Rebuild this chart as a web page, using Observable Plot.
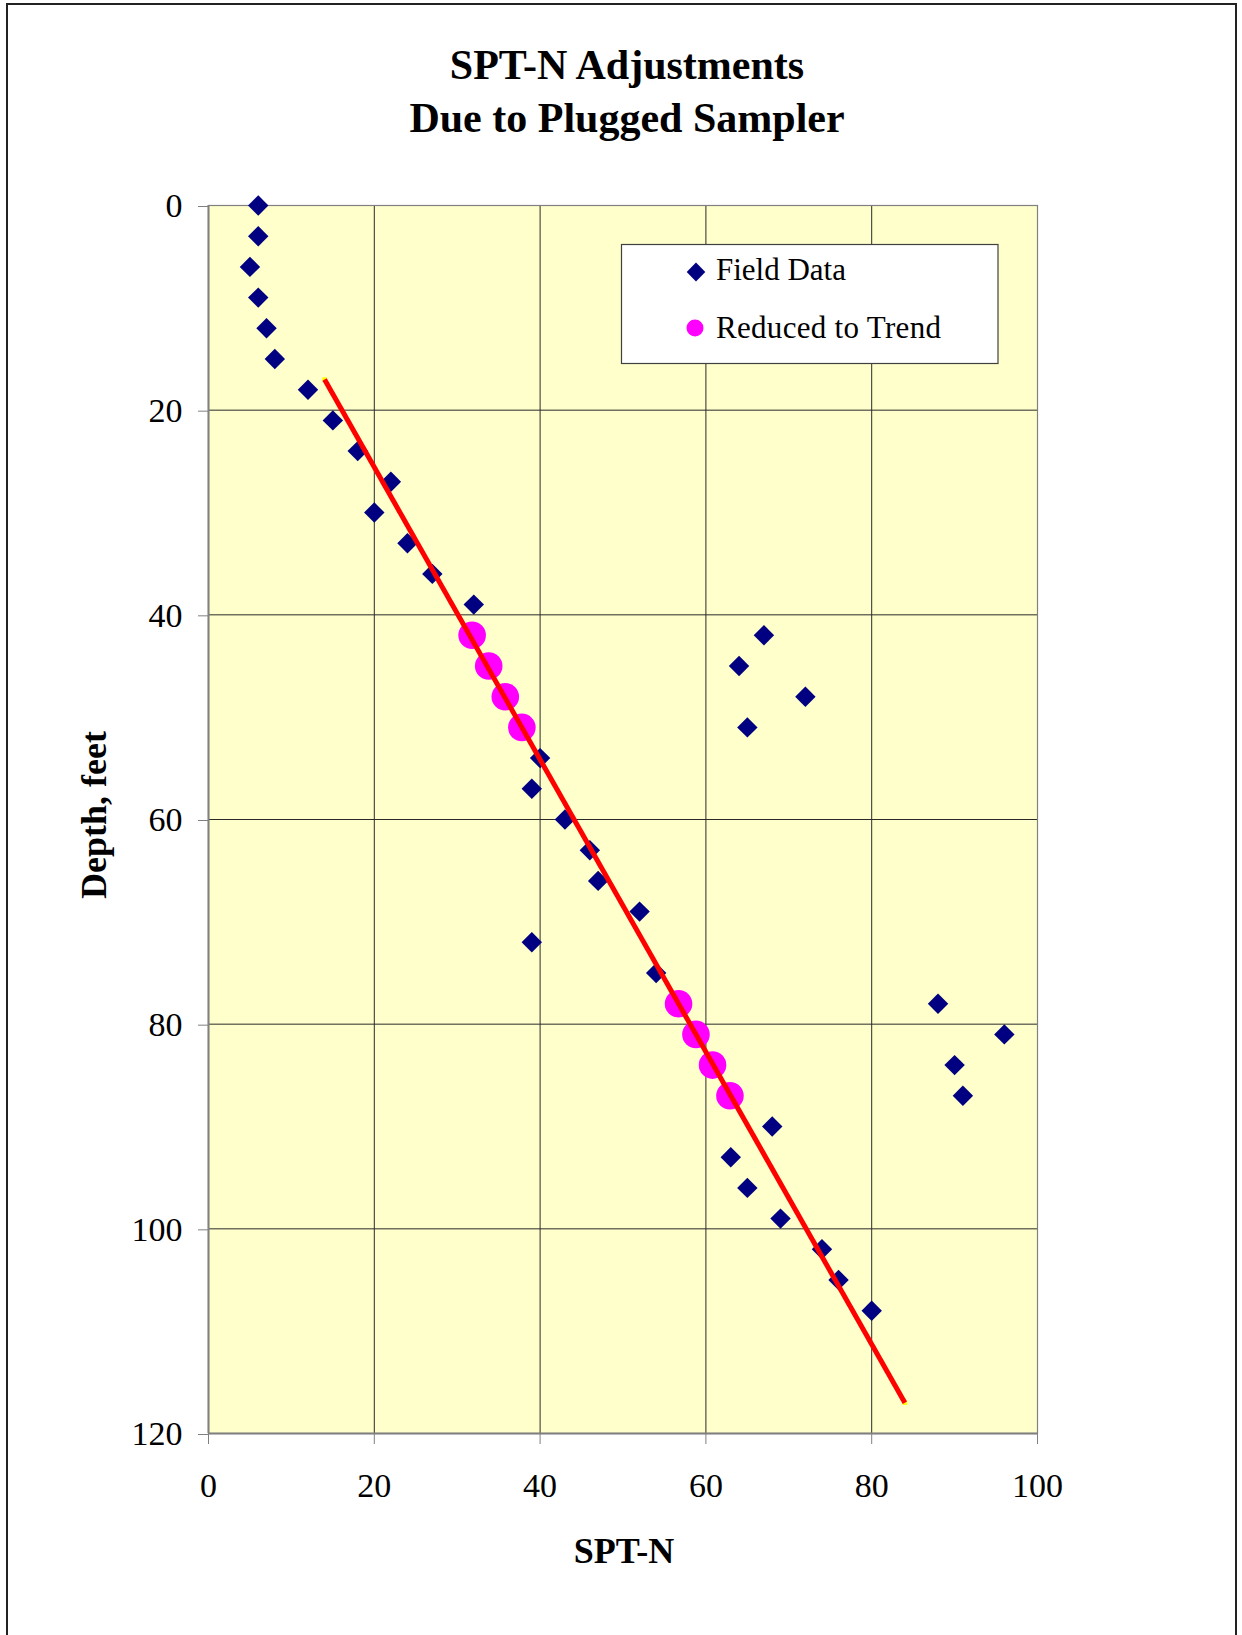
<!DOCTYPE html>
<html>
<head>
<meta charset="utf-8">
<script src="https://cdn.jsdelivr.net/npm/d3@7"></script>
<script src="https://cdn.jsdelivr.net/npm/@observablehq/plot@0.6"></script>
<style>
  html, body { margin: 0; padding: 0; background: #fff; }
  #wrap { position: relative; width: 1242px; height: 1635px; overflow: hidden; background: #fff; }
  #border { position: absolute; left: 6px; top: 3px; width: 1231px; height: 1700px;
            border: 2px solid #222; box-sizing: border-box; }
  #chart { position: absolute; left: 0; top: 0; }
  #overlay { position: absolute; left: 0; top: 0; }
  text { font-family: "Liberation Serif", "Times New Roman", serif; }
</style>
</head>
<body>
<div id="wrap">
  <div id="border"></div>
  <div id="chart"></div>
  <svg id="overlay" width="1242" height="1635"></svg>
</div>
<script>
// ---- Data ----
const fieldDepth = [0, 3, 6, 9, 12, 15, 18, 21, 24, 27, 30, 33, 36, 39, 42, 45, 48, 51, 54, 57, 60, 63, 66, 69, 72, 75, 78, 81, 84, 87, 90, 93, 96, 99, 102, 105, 108];
const fieldN     = [6, 6, 5, 6, 7, 8, 12, 15, 18, 22, 20, 24, 27, 32, 67, 64, 72, 65, 40, 39, 43, 46, 47, 52, 39, 54, 88, 96, 90, 91, 68, 63, 65, 69, 74, 76, 80];

const reducedDepth = [42, 45, 48, 51, 78, 81, 84, 87];
const reducedN     = [31.8, 33.8, 35.8, 37.8, 56.7, 58.8, 60.8, 62.9];

const trendDepth = [17, 117];
const trendN     = [14, 84];

const xTicks = [0, 20, 40, 60, 80, 100];
const yTicks = [0, 20, 40, 60, 80, 100, 120];
const xGrid = [20, 40, 60, 80];
const yGrid = [20, 40, 60, 80, 100];

const titleLines = ["SPT-N Adjustments", "Due to Plugged Sampler"];
const xTitle = "SPT-N";
const yTitle = "Depth, feet";
const legendLabels = ["Field Data", "Reduced to Trend"];

// ---- Build tables ----
const field = fieldDepth.map((d, i) => ({depth: d, n: fieldN[i]}));
const reduced = reducedDepth.map((d, i) => ({depth: d, n: reducedN[i]}));
const trend = trendDepth.map((d, i) => ({depth: d, n: trendN[i]}));

const W = 1242, H = 1635;
const chart = Plot.plot({
  width: W,
  height: H,
  marginLeft: 208,
  marginRight: 205,
  marginTop: 205,
  marginBottom: 202,
  style: {background: "transparent", fontFamily: "Liberation Serif, Times New Roman, serif", fontSize: "34px", color: "#000"},
  x: {domain: [0, 100], label: null},
  y: {domain: [0, 120], reverse: true, label: null},
  marks: [
    Plot.frame({fill: "#FFFFCC", stroke: "none"}),
    Plot.gridX({ticks: xGrid, stroke: "#2a2a2a", strokeOpacity: 1, strokeWidth: 1}),
    Plot.gridY({ticks: yGrid, stroke: "#2a2a2a", strokeOpacity: 1, strokeWidth: 1}),
    Plot.frame({stroke: "#808080", strokeWidth: 1.2}),
    Plot.ruleX([0], {stroke: "#808080", strokeWidth: 2}),
    Plot.ruleY([120], {stroke: "#808080", strokeWidth: 2}),
    Plot.axisX({ticks: xTicks, tickSize: 11, tickPadding: 28, stroke: "#808080", fill: "#000", fontSize: 34, label: null, tickFormat: d => String(d)}),
    Plot.axisY({ticks: yTicks, tickSize: 10, tickPadding: 16, stroke: "#808080", fill: "#000", fontSize: 34, dy: 1, label: null, tickFormat: d => String(d)}),
    Plot.dot(field, {x: "n", y: "depth", symbol: "diamond2", r: 9.2, fill: "#000080", stroke: "none"}),
    Plot.dot(reduced, {x: "n", y: "depth", symbol: "circle", r: 13.8, fill: "#FF00FF", stroke: "none"}),
    Plot.dot(trend, {x: "n", y: "depth", symbol: "square", r: 2.5, fill: "#FFFF00", stroke: "none"}),
    Plot.line(trend, {x: "n", y: "depth", stroke: "#FF0000", strokeWidth: 5, strokeLinecap: "butt"})
  ]
});
document.getElementById("chart").appendChild(chart);

// ---- Titles, axis titles and legend ----
const ov = d3.select("#overlay");
ov.append("text").attr("x", 627).attr("y", 79).attr("text-anchor", "middle")
  .attr("font-size", 42).attr("font-weight", "bold").text(titleLines[0]);
ov.append("text").attr("x", 627).attr("y", 132).attr("text-anchor", "middle")
  .attr("font-size", 42).attr("font-weight", "bold").text(titleLines[1]);
ov.append("text").attr("x", 624).attr("y", 1563).attr("text-anchor", "middle")
  .attr("font-size", 36).attr("font-weight", "bold").text(xTitle);
ov.append("text").attr("transform", "translate(106,815) rotate(-90)").attr("text-anchor", "middle")
  .attr("font-size", 36).attr("font-weight", "bold").text(yTitle);

// legend
const lg = ov.append("g");
lg.append("rect").attr("x", 621.5).attr("y", 244.5).attr("width", 376.5).attr("height", 119)
  .attr("fill", "#fff").attr("stroke", "#404040").attr("stroke-width", 1.2);
lg.append("path").attr("transform", "translate(696,272)")
  .attr("d", "M0,-9.5L9.3,0L0,9.5L-9.3,0Z").attr("fill", "#000080");
lg.append("circle").attr("cx", 695).attr("cy", 328).attr("r", 8.5).attr("fill", "#FF00FF");
lg.append("text").attr("x", 716).attr("y", 280).attr("font-size", 31).text(legendLabels[0]);
lg.append("text").attr("x", 716).attr("y", 337.7).attr("font-size", 31).attr("letter-spacing", 0.3).text(legendLabels[1]);
</script>
</body>
</html>
